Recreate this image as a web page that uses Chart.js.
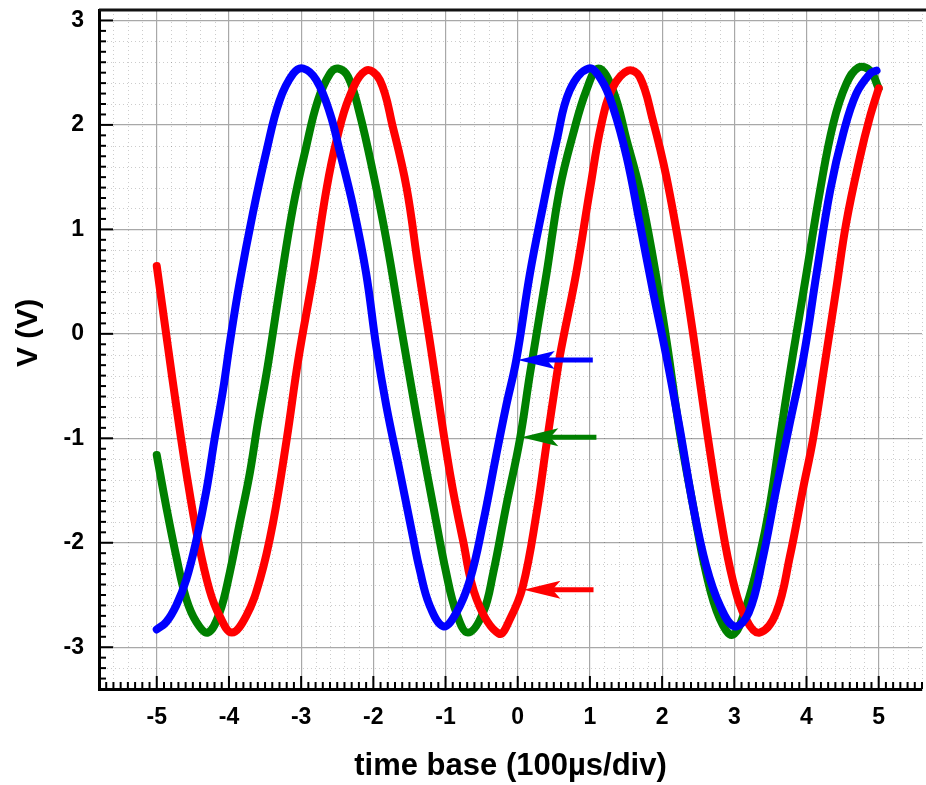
<!DOCTYPE html>
<html lang="en">
<head>
  <meta charset="UTF-8" />
  <title>V vs time base</title>
  <script src="https://cdn.jsdelivr.net/npm/chart.js"></script>
  <style>
    html, body { margin: 0; padding: 0; background: #fff; }
    #wrap { width: 926px; height: 785px; }
  </style>
</head>
<body>
  <div id="wrap"><canvas id="scope"></canvas></div>

  <script>
    // traces (x in div, y in V)
    const redX = [-5.0, -4.85, -4.73, -4.59, -4.43, -4.27, -4.13, -3.96, -3.76, -3.57, -3.39, -3.2, -3.04, -2.83, -2.65, -2.51, -2.33, -2.1, -1.91, -1.73, -1.54, -1.38, -1.22, -0.94, -0.76, -0.57, -0.26, -0.1, 0.07, 0.26, 0.4, 0.54, 0.6, 0.81, 1.0, 1.16, 1.32, 1.53, 1.69, 1.87, 2.06, 2.29, 2.45, 2.61, 2.8, 2.98, 3.17, 3.35, 3.58, 3.77, 3.95, 4.09, 4.25, 4.41, 4.55, 4.74, 4.88, 5.0];
    const redY = [0.65, -0.1, -0.69, -1.33, -1.97, -2.45, -2.7, -2.86, -2.7, -2.35, -1.81, -1.01, -0.25, 0.58, 1.38, 1.85, 2.27, 2.52, 2.43, 1.98, 1.4, 0.65, -0.06, -1.33, -1.97, -2.54, -2.87, -2.72, -2.42, -1.72, -1.05, -0.4, -0.15, 0.58, 1.38, 2.01, 2.36, 2.52, 2.46, 2.05, 1.5, 0.62, -0.1, -0.88, -1.72, -2.36, -2.74, -2.86, -2.67, -2.13, -1.49, -1.01, -0.3, 0.42, 1.06, 1.69, 2.08, 2.35];

    const greenX = [-5.0, -4.87, -4.73, -4.59, -4.45, -4.29, -4.13, -3.99, -3.85, -3.71, -3.6, -3.48, -3.42, -3.3, -3.11, -2.93, -2.77, -2.6, -2.49, -2.35, -2.19, -2.0, -1.82, -1.6, -1.45, -1.36, -1.17, -0.99, -0.85, -0.69, -0.48, -0.34, -0.16, 0.03, 0.17, 0.4, 0.58, 0.77, 0.95, 1.12, 1.32, 1.51, 1.69, 1.87, 2.06, 2.24, 2.43, 2.61, 2.8, 2.98, 3.17, 3.35, 3.49, 3.63, 3.77, 3.86, 4.0, 4.19, 4.37, 4.55, 4.72, 4.88, 5.0];
    const greenY = [-1.16, -1.65, -2.13, -2.54, -2.76, -2.86, -2.67, -2.29, -1.81, -1.33, -0.85, -0.38, -0.12, 0.42, 1.22, 1.79, 2.23, 2.49, 2.54, 2.46, 2.11, 1.53, 0.9, 0.0, -0.6, -0.95, -1.65, -2.29, -2.67, -2.86, -2.67, -2.29, -1.65, -1.01, -0.38, 0.58, 1.38, 1.92, 2.33, 2.54, 2.33, 1.85, 1.38, 0.74, -0.06, -0.92, -1.65, -2.29, -2.73, -2.88, -2.6, -2.13, -1.65, -1.01, -0.38, 0.0, 0.58, 1.38, 2.01, 2.39, 2.55, 2.52, 2.35];

    const blueX = [-5.0, -4.87, -4.73, -4.59, -4.45, -4.31, -4.2, -4.08, -3.98, -3.85, -3.67, -3.48, -3.3, -3.11, -2.97, -2.79, -2.6, -2.47, -2.28, -2.1, -1.96, -1.82, -1.63, -1.45, -1.36, -1.22, -1.03, -0.85, -0.66, -0.48, -0.3, -0.16, -0.02, 0.17, 0.35, 0.54, 0.72, 0.98, 1.16, 1.32, 1.51, 1.69, 1.87, 2.06, 2.24, 2.43, 2.61, 2.8, 3.0, 3.2, 3.4, 3.58, 3.77, 3.96, 4.14, 4.33, 4.51, 4.69, 4.88, 4.97];
    const blueY = [-2.83, -2.76, -2.6, -2.35, -1.97, -1.49, -1.01, -0.53, -0.05, 0.5, 1.15, 1.75, 2.23, 2.49, 2.54, 2.43, 2.11, 1.76, 1.22, 0.58, -0.12, -0.69, -1.33, -1.95, -2.25, -2.6, -2.8, -2.67, -2.35, -1.81, -1.17, -0.69, -0.25, 0.58, 1.22, 1.85, 2.33, 2.54, 2.43, 2.17, 1.69, 1.06, 0.42, -0.22, -0.89, -1.65, -2.22, -2.6, -2.8, -2.67, -2.13, -1.49, -0.85, -0.22, 0.58, 1.38, 1.92, 2.3, 2.49, 2.52];

    // the three marker arrows: level, tip and tail
    const arrowY = [-0.25, -0.99, -2.45];
    const arrowTipX = [0.0, 0.05, 0.08];
    const arrowTailX = [1.04, 1.09, 1.05];
    const arrowColors = ['#0000ff', '#008000', '#ff0000'];

    const xTitle = 'time base (100\u00b5s/div)';
    const yTitle = '    V (V)';

    const FONT = '"Liberation Sans", Arial, sans-serif';

    function toPoints(xs, ys) {
      return xs.map((x, i) => ({ x, y: ys[i] }));
    }

    // minor dotted grid, inward ticks, top frame line
    const framePlugin = {
      id: 'frame',
      beforeDatasetsDraw(chart) {
        const { ctx, chartArea: a, scales: { x, y } } = chart;
        ctx.save();
        ctx.strokeStyle = 'rgba(0,0,0,0.2)';
        ctx.lineWidth = 1;
        ctx.setLineDash([1, 3]);
        for (let i = Math.ceil(x.min * 5); i <= Math.floor(x.max * 5); i++) {
          if (i % 5 === 0) continue;
          const px = Math.round(x.getPixelForValue(i / 5)) + 0.5;
          ctx.beginPath(); ctx.moveTo(px, a.top); ctx.lineTo(px, a.bottom); ctx.stroke();
        }
        for (let i = Math.ceil(y.min * 5); i <= Math.floor(y.max * 5); i++) {
          if (i % 5 === 0) continue;
          const py = Math.round(y.getPixelForValue(i / 5)) + 0.5;
          ctx.beginPath(); ctx.moveTo(a.left, py); ctx.lineTo(a.right, py); ctx.stroke();
        }
        ctx.setLineDash([]);

        // ticks, pointing into the plot
        ctx.strokeStyle = '#000';
        ctx.lineWidth = 2;
        for (let i = Math.ceil(x.min * 10); i <= Math.floor(x.max * 10); i++) {
          const px = x.getPixelForValue(i / 10);
          const len = i % 10 === 0 ? 13 : 7;
          ctx.beginPath(); ctx.moveTo(px, a.bottom); ctx.lineTo(px, a.bottom - len); ctx.stroke();
        }
        for (let i = Math.ceil(y.min * 10); i <= Math.floor(y.max * 10); i++) {
          const py = y.getPixelForValue(i / 10);
          const len = i % 10 === 0 ? 14 : 7;
          ctx.beginPath(); ctx.moveTo(a.left, py); ctx.lineTo(a.left + len, py); ctx.stroke();
        }

        ctx.strokeStyle = '#111';
        ctx.lineWidth = 3;
        ctx.beginPath(); ctx.moveTo(a.left, a.top); ctx.lineTo(chart.width, a.top); ctx.stroke();
        ctx.restore();
      },
      afterDatasetsDraw(chart) {
        const { ctx, scales: { x, y } } = chart;
        ctx.save();
        arrowY.forEach((v, i) => {
          const tip = x.getPixelForValue(arrowTipX[i]);
          const tail = x.getPixelForValue(arrowTailX[i]);
          const py = y.getPixelForValue(v);
          ctx.strokeStyle = arrowColors[i];
          ctx.fillStyle = arrowColors[i];
          ctx.lineWidth = 5;
          ctx.beginPath(); ctx.moveTo(tip + 20, py); ctx.lineTo(tail, py); ctx.stroke();
          ctx.beginPath();
          ctx.moveTo(tip, py);
          ctx.lineTo(tip + 37, py - 9);
          ctx.lineTo(tip + 29, py);
          ctx.lineTo(tip + 37, py + 9);
          ctx.closePath();
          ctx.fill();
        });
        ctx.restore();
      }
    };

    function trace(label, xs, ys, color, order) {
      return {
        label,
        data: toPoints(xs, ys),
        showLine: true,
        borderColor: color,
        backgroundColor: color,
        borderWidth: 8,
        borderCapStyle: 'round',
        borderJoinStyle: 'round',
        pointRadius: 0,
        tension: 0.4,
        order
      };
    }

    new Chart(document.getElementById('scope'), {
      type: 'scatter',
      data: {
        datasets: [
          trace('blue', blueX, blueY, '#0000ff', 0),
          trace('red', redX, redY, '#ff0000', 1),
          trace('green', greenX, greenY, '#008000', 2)
        ]
      },
      options: {
        responsive: true,
        maintainAspectRatio: false,
        animation: false,
        layout: { padding: { left: 0, right: 4, top: 10, bottom: 0 } },
        plugins: { legend: { display: false }, tooltip: { enabled: false } },
        scales: {
          x: {
            type: 'linear',
            min: -5.8,
            max: 5.6,
            afterFit(s) { s.height = 96; s.paddingLeft = 0; s.paddingRight = 0; },
            ticks: {
              stepSize: 1,
              includeBounds: false,
              padding: 15,
              color: '#000',
              font: { family: FONT, size: 23, weight: 'bold' }
            },
            grid: { color: '#a8a8a8', lineWidth: 1.2, drawTicks: false },
            border: { display: true, color: '#000', width: 3 },
            title: {
              display: true,
              text: xTitle,
              color: '#000',
              font: { family: FONT, size: 31, weight: 'bold' },
              padding: { top: 0, bottom: 0 }
            }
          },
          y: {
            type: 'linear',
            min: -3.4,
            max: 3.1,
            afterFit(s) { s.width = 99; s.paddingTop = 0; s.paddingBottom = 0; },
            ticks: {
              stepSize: 1,
              includeBounds: false,
              padding: 15,
              color: '#000',
              font: { family: FONT, size: 23, weight: 'bold' }
            },
            grid: { color: '#a8a8a8', lineWidth: 1.2, drawTicks: false },
            border: { display: true, color: '#000', width: 3 },
            title: {
              display: true,
              text: yTitle,
              color: '#000',
              font: { family: FONT, size: 30, weight: 'bold' },
              padding: { top: 11, bottom: 0 }
            }
          }
        }
      },
      plugins: [framePlugin]
    });
  </script>
</body>
</html>
